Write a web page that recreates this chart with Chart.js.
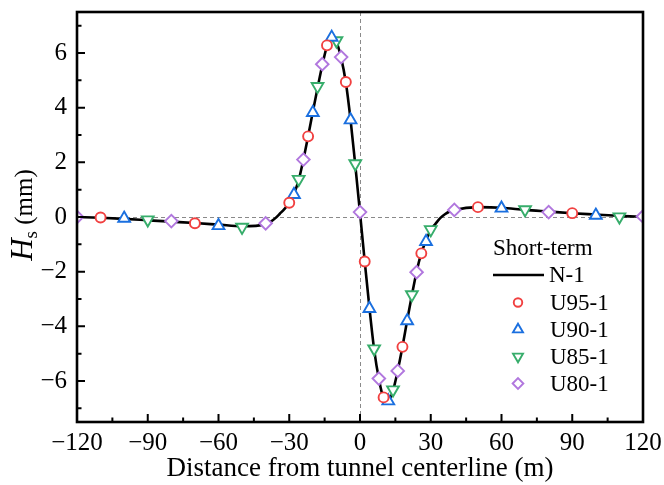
<!DOCTYPE html>
<html>
<head>
<meta charset="utf-8">
<script src="https://cdn.jsdelivr.net/npm/chart.js@4"></script>
<style>
  html, body { margin: 0; background: #fff; }
  #wrap { width: 664px; height: 485px; position: relative; }
</style>
</head>
<body>
<div id="wrap"><canvas id="chart"></canvas></div>
<script>
const xTicks = [-120, -90, -60, -30, 0, 30, 60, 90, 120];
const xMinor = [-105, -75, -45, -15, 15, 45, 75, 105];
const yTicks = [-6, -4, -2, 0, 2, 4, 6];
const yMinor = [-7, -5, -3, -1, 1, 3, 5, 7];

// N-1 curve
const n1X = [-120, -110, -100, -90, -80, -70, -60, -50, -40, -38, -36, -34, -32, -30,
  -28, -26, -24, -22, -20, -18, -16, -14, -12, -10, -8, -6, -4, -2, 0, 2, 4, 6, 8, 10,
  12, 14, 16, 18, 20, 22, 24, 26, 28, 30, 32, 34, 36, 38, 40, 50, 60, 70, 80, 90, 100, 110, 120];
const n1Y = [0, -0.03, -0.07, -0.12, -0.17, -0.22, -0.28, -0.34, -0.27, -0.18, -0.05, 0.12, 0.3, 0.52,
  0.85, 1.35, 2.1, 2.95, 3.85, 4.72, 5.55, 6.25, 6.6, 6.4, 5.82, 4.92, 3.55, 1.9, 0.15, -1.62, -3.32, -4.85, -5.92, -6.62,
  -6.72, -6.35, -5.62, -4.75, -3.78, -2.86, -2.0, -1.32, -0.86, -0.48, -0.25, -0.04, 0.1, 0.2, 0.26, 0.36, 0.34, 0.26, 0.2, 0.14, 0.09, 0.04, 0.01];

const u95X = [-110, -70, -30, -22, -14, -6, 2, 10, 18, 26, 50, 90];
const u95Y = [-0.02, -0.23, 0.52, 2.95, 6.28, 4.94, -1.63, -6.6, -4.75, -1.33, 0.36, 0.14];
const u90X = [-100, -60, -28, -20, -12, -4, 4, 12, 20, 28, 60, 100];
const u90Y = [-0.05, -0.32, 0.82, 3.82, 6.57, 3.55, -3.35, -6.73, -3.8, -0.9, 0.32, 0.06];
const u85X = [-90, -50, -26, -18, -10, -2, 6, 14, 22, 30, 70, 110];
const u85Y = [-0.1, -0.37, 1.38, 4.78, 6.45, 1.95, -4.82, -6.32, -2.84, -0.46, 0.27, 0.01];
const u80X = [-120, -80, -40, -24, -16, -8, 0, 8, 16, 24, 40, 80, 120];
const u80Y = [0, -0.15, -0.23, 2.1, 5.59, 5.85, 0.18, -5.91, -5.63, -2.02, 0.26, 0.18, 0.02];

const colors = {
  red: "#F14040",
  blue: "#1A6FDF",
  green: "#37AD6B",
  purple: "#B177DE",
};
const serif = "'Liberation Serif', 'Times New Roman', serif";

function pts(xs, ys) {
  return xs.map((x, i) => ({ x, y: ys[i] }));
}

function markers(label, xs, ys, color, style, radius, rotation = 0) {
  return {
    label,
    data: pts(xs, ys),
    showLine: false,
    pointStyle: style,
    pointRotation: rotation,
    pointRadius: radius,
    pointBorderWidth: 1.9,
    pointBorderColor: color,
    pointBackgroundColor: "#fff",
    borderColor: color,
    backgroundColor: "#fff",
    order: 1,
  };
}

const datasets = [
  {
    label: "N-1",
    data: pts(n1X, n1Y),
    showLine: true,
    borderColor: "#000",
    borderWidth: 2.6,
    pointRadius: 0,
    cubicInterpolationMode: "monotone",
    order: 10,
  },
  markers("U95-1", u95X, u95Y, colors.red, "circle", 5),
  markers("U90-1", u90X, u90Y, colors.blue, "triangle", 6.8),
  markers("U85-1", u85X, u85Y, colors.green, "triangle", 6.8, 180),
  markers("U80-1", u80X, u80Y, colors.purple, "rectRot", 6.3),
];

const decor = {
  id: "decor",
  beforeDatasetsDraw(chart) {
    const { ctx, chartArea: a, scales: { x, y } } = chart;
    const x0 = Math.round(x.getPixelForValue(0)) + 0.5;
    const y0 = Math.round(y.getPixelForValue(0)) + 0.5;
    ctx.save();
    ctx.strokeStyle = "#8a8a8a";
    ctx.lineWidth = 1;
    ctx.setLineDash([4, 3]);
    ctx.beginPath();
    ctx.moveTo(a.left, y0);
    ctx.lineTo(a.right, y0);
    ctx.moveTo(x0, a.top);
    ctx.lineTo(x0, a.bottom);
    ctx.stroke();
    ctx.restore();
  },
  afterDraw(chart) {
    const { ctx, chartArea: a, scales: { x, y } } = chart;
    ctx.save();
    // inward ticks
    ctx.strokeStyle = "#000";
    ctx.lineWidth = 2;
    ctx.beginPath();
    for (const v of xTicks) { const p = x.getPixelForValue(v); ctx.moveTo(p, a.bottom); ctx.lineTo(p, a.bottom - 8); }
    for (const v of xMinor) { const p = x.getPixelForValue(v); ctx.moveTo(p, a.bottom); ctx.lineTo(p, a.bottom - 4.5); }
    for (const v of yTicks) { const p = y.getPixelForValue(v); ctx.moveTo(a.left, p); ctx.lineTo(a.left + 8, p); }
    for (const v of yMinor) { const p = y.getPixelForValue(v); ctx.moveTo(a.left, p); ctx.lineTo(a.left + 4.5, p); }
    ctx.stroke();
    // frame
    ctx.lineWidth = 2.6;
    ctx.strokeRect(a.left, a.top, a.right - a.left, a.bottom - a.top);

    // x title
    ctx.fillStyle = "#000";
    ctx.font = `27px ${serif}`;
    ctx.textAlign = "center";
    ctx.textBaseline = "middle";
    ctx.fillText("Distance from tunnel centerline (m)", (a.left + a.right) / 2, 469);

    // y title: H_s (mm)
    ctx.translate(22, 215);
    ctx.rotate(-Math.PI / 2);
    ctx.textAlign = "left";
    ctx.textBaseline = "alphabetic";
    const fH = `italic 31px ${serif}`, fS = `19px ${serif}`, fM = `25px ${serif}`;
    ctx.font = fH; const wH = ctx.measureText("H").width;
    ctx.font = fS; const wS = ctx.measureText("s").width;
    ctx.font = fM; const wM = ctx.measureText(" (mm)").width;
    let cx = -(wH + wS + wM) / 2;
    const base = 10;
    ctx.font = fH; ctx.fillText("H", cx, base); cx += wH;
    ctx.font = fS; ctx.fillText("s", cx, base + 5); cx += wS;
    ctx.font = fM; ctx.fillText(" (mm)", cx, base);
    ctx.restore();

    // legend
    ctx.save();
    ctx.fillStyle = "#000";
    ctx.font = `23px ${serif}`;
    ctx.textAlign = "left";
    ctx.textBaseline = "middle";
    ctx.fillText("Short-term", 493, 249);
    ctx.strokeStyle = "#000";
    ctx.lineWidth = 2.6;
    ctx.beginPath();
    ctx.moveTo(493, 275);
    ctx.lineTo(544, 275);
    ctx.stroke();
    ctx.fillText("N-1", 549, 276);
    const rows = [302.5, 329.5, 356.5, 383.5];
    chart.data.datasets.slice(1).forEach((ds, i) => {
      ctx.save();
      ctx.strokeStyle = ds.pointBorderColor;
      ctx.fillStyle = "#fff";
      ctx.lineWidth = ds.pointBorderWidth;
      Chart.helpers.drawPoint(ctx, {
        pointStyle: ds.pointStyle,
        rotation: ds.pointRotation,
        radius: ds.pointRadius * 0.85,
        borderWidth: ds.pointBorderWidth,
      }, 518, rows[i]);
      ctx.restore();
      ctx.fillText(ds.label, 550, rows[i] + 1);
    });
    ctx.restore();
  },
};

function noPad(s) {
  s.paddingTop = 0;
  s.paddingBottom = 0;
  s.paddingLeft = 0;
  s.paddingRight = 0;
}

new Chart(document.querySelector("#chart"), {
  type: "scatter",
  data: { datasets },
  options: {
    responsive: true,
    maintainAspectRatio: false,
    animation: false,
    layout: { padding: { top: 12, right: 21, left: 0, bottom: 0 } },
    plugins: { legend: { display: false }, tooltip: { enabled: false } },
    scales: {
      x: {
        min: -120,
        max: 120,
        grid: { display: false, drawTicks: false },
        border: { display: false },
        afterBuildTicks: (s) => { s.ticks = xTicks.map((value) => ({ value })); },
        afterFit: (s) => { s.height = 63; noPad(s); },
        ticks: {
          padding: 6,
          color: "#000",
          font: { family: serif, size: 25 },
          callback: (v) => (v < 0 ? "\u2212" + Math.abs(v) : String(v)),
        },
      },
      y: {
        min: -7.5,
        max: 7.5,
        grid: { display: false, drawTicks: false },
        border: { display: false },
        afterBuildTicks: (s) => { s.ticks = yTicks.map((value) => ({ value })); },
        afterFit: (s) => { s.width = 77; noPad(s); },
        ticks: {
          padding: 10,
          color: "#000",
          font: { family: serif, size: 25 },
          callback: (v) => (v < 0 ? "\u2212" + Math.abs(v) : String(v)),
        },
      },
    },
  },
  plugins: [decor],
});
</script>
</body>
</html>
